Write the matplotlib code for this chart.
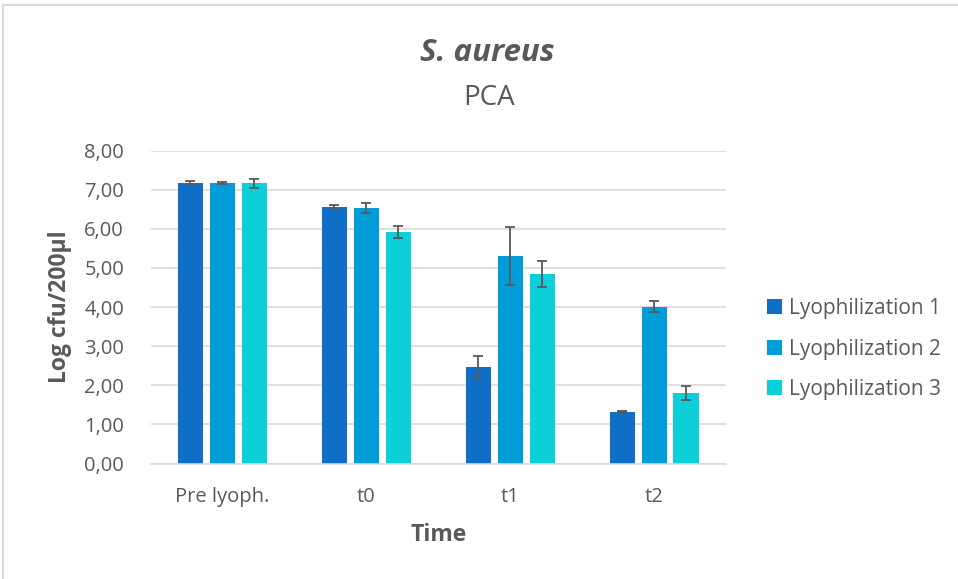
import matplotlib
matplotlib.use('Agg')
import matplotlib.pyplot as plt
from matplotlib.lines import Line2D
import numpy as np

plt.rcParams['font.family'] = ['Open Sans', 'DejaVu Sans']

categories = ['Pre lyoph.', 't0', 't1', 't2']
series = ['Lyophilization 1', 'Lyophilization 2', 'Lyophilization 3']
values = [
    [7.17, 6.56, 2.47, 1.32],
    [7.17, 6.54, 5.30, 4.01],
    [7.16, 5.92, 4.84, 1.81],
]
errors = [
    [0.05, 0.04, 0.29, 0.01],
    [0.02, 0.13, 0.75, 0.15],
    [0.11, 0.16, 0.33, 0.18],
]
COLORS = ['#0F6FC6', '#009DD9', '#0BD0D9']
TXT, GRID = '#595959', '#D9D9D9'

W, H = 958, 579
fig = plt.figure(figsize=(W / 100, H / 100), dpi=100)
ax = fig.add_axes([150.5 / W, (H - 463.5) / H, (726 - 150.5) / W, (463.5 - 150.5) / H])

# thin frame of the chart area (top and left edges visible)
fig.add_artist(Line2D([3 / W, 1], [1 - 5 / H, 1 - 5 / H], color=GRID, lw=1.5))
fig.add_artist(Line2D([3 / W, 3 / W], [0, 1 - 5 / H], color=GRID, lw=1.5))

x = np.arange(len(categories))
bw, step = 0.174, 0.222
for i, (name, vals, errs) in enumerate(zip(series, values, errors)):
    pos = x + (i - 1) * step
    ax.bar(pos, vals, width=bw, color=COLORS[i], label=name, zorder=2)
    ax.errorbar(pos, vals, yerr=errs, fmt='none', ecolor=TXT, elinewidth=1.3,
                capsize=3.6, capthick=1.3, zorder=3)

ax.set_xlim(-0.5, 3.5)
ax.set_ylim(0, 8)
ax.set_yticks(np.arange(0, 9, 1))
ax.set_yticklabels([f'{v:.2f}'.replace('.', ',') for v in range(9)])
ax.set_xticks(x)
ax.set_xticklabels(categories)
ax.tick_params(length=0, labelsize=14.5, colors=TXT)
ax.tick_params(axis='x', pad=17)
ax.tick_params(axis='y', pad=19)
ax.yaxis.grid(True, color=GRID, lw=1.2, zorder=0)
for s in ('top', 'right', 'left'):
    ax.spines[s].set_visible(False)
ax.spines['bottom'].set_color(GRID)
ax.spines['bottom'].set_linewidth(1.2)

ax.set_ylabel('Log cfu/200µl', fontsize=16.5, fontweight='bold', color=TXT, labelpad=9)
ax.set_xlabel('Time', fontsize=16.5, fontweight='bold', color=TXT, labelpad=11.5)

fig.text(487 / W, 1 - 53 / H, 'S. aureus', ha='center', va='center', fontsize=22.5,
         fontweight='bold', fontstyle='italic', color=TXT)
fig.text(489 / W, 1 - 98 / H, 'PCA', ha='center', va='center', fontsize=20, color=TXT)

leg = fig.legend(loc='center left', bbox_to_anchor=(748 / W, 1 - 349 / H), frameon=False,
                 fontsize=15, handlelength=0.75, handleheight=0.75, handletextpad=0.3,
                 labelspacing=0.93, labelcolor=TXT)

fig.savefig('out.png', dpi=100, facecolor='white')
